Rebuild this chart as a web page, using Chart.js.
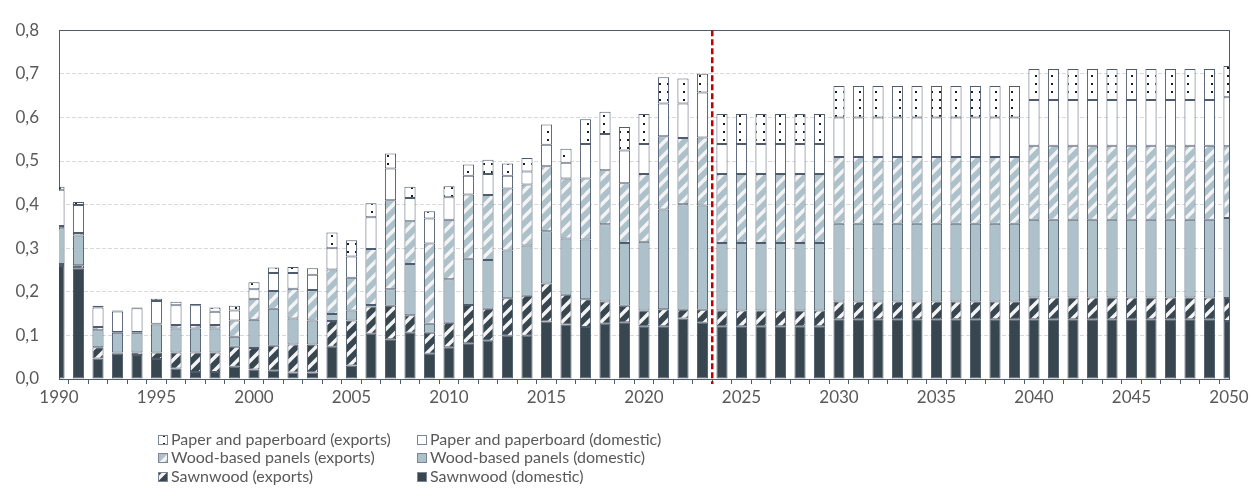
<!DOCTYPE html>
<html>
<head>
<meta charset="utf-8">
<script src="https://cdn.jsdelivr.net/npm/chart.js@4.4.1/dist/chart.umd.min.js"></script>
<style>
  html, body { margin: 0; padding: 0; background: #fff; }
  #wrap { width: 1252px; height: 503px; position: relative; }
</style>
</head>
<body>
<div id="wrap"><canvas id="chart"></canvas></div>
<script>
const years = [
  1990, 1991, 1992, 1993, 1994, 1995, 1996, 1997, 1998, 1999,
  2000, 2001, 2002, 2003, 2004, 2005, 2006, 2007, 2008, 2009,
  2010, 2011, 2012, 2013, 2014, 2015, 2016, 2017, 2018, 2019,
  2020, 2021, 2022, 2023, 2024, 2025, 2026, 2027, 2028, 2029,
  2030, 2031, 2032, 2033, 2034, 2035, 2036, 2037, 2038, 2039,
  2040, 2041, 2042, 2043, 2044, 2045, 2046, 2047, 2048, 2049,
  2050
];

const sawnDomestic = [
  0.259, 0.254, 0.047, 0.058, 0.055, 0.046, 0.024, 0.016, 0.016, 0.028,
  0.022, 0.019, 0.015, 0.015, 0.074, 0.031, 0.104, 0.091, 0.106, 0.058,
  0.073, 0.082, 0.088, 0.099, 0.099, 0.132, 0.125, 0.119, 0.127, 0.130,
  0.121, 0.121, 0.139, 0.129, 0.121, 0.121, 0.121, 0.121, 0.121, 0.121,
  0.137, 0.137, 0.137, 0.137, 0.137, 0.137, 0.137, 0.137, 0.137, 0.137,
  0.137, 0.137, 0.137, 0.137, 0.137, 0.137, 0.137, 0.137, 0.137, 0.137,
  0.133
];
const sawnExports = [
  0.005, 0.007, 0.026, 0.003, 0.006, 0.015, 0.037, 0.045, 0.045, 0.046,
  0.049, 0.057, 0.064, 0.064, 0.059, 0.103, 0.062, 0.077, 0.040, 0.048,
  0.056, 0.088, 0.073, 0.086, 0.092, 0.087, 0.068, 0.064, 0.051, 0.038,
  0.036, 0.039, 0.020, 0.030, 0.036, 0.036, 0.036, 0.036, 0.036, 0.036,
  0.041, 0.041, 0.041, 0.041, 0.041, 0.041, 0.041, 0.041, 0.041, 0.041,
  0.050, 0.050, 0.050, 0.050, 0.050, 0.050, 0.050, 0.050, 0.050, 0.050,
  0.053
];
const panelDomestic = [
  0.082, 0.068, 0.039, 0.045, 0.045, 0.064, 0.055, 0.055, 0.055, 0.023,
  0.065, 0.085, 0.060, 0.055, 0.016, 0.023, 0.004, 0.038, 0.118, 0.021,
  0.100, 0.106, 0.112, 0.110, 0.115, 0.120, 0.129, 0.137, 0.177, 0.144,
  0.158, 0.229, 0.242, 0.239, 0.155, 0.155, 0.155, 0.155, 0.155, 0.155,
  0.178, 0.178, 0.178, 0.178, 0.178, 0.178, 0.178, 0.178, 0.178, 0.178,
  0.178, 0.178, 0.178, 0.178, 0.178, 0.178, 0.178, 0.178, 0.178, 0.178,
  0.183
];
const panelExports = [
  0.005, 0.006, 0.007, 0.002, 0.002, 0.002, 0.008, 0.008, 0.008, 0.037,
  0.048, 0.041, 0.068, 0.070, 0.102, 0.075, 0.128, 0.204, 0.098, 0.184,
  0.136, 0.147, 0.149, 0.142, 0.140, 0.149, 0.138, 0.140, 0.124, 0.137,
  0.155, 0.168, 0.152, 0.156, 0.158, 0.158, 0.158, 0.158, 0.158, 0.158,
  0.153, 0.153, 0.153, 0.153, 0.153, 0.153, 0.153, 0.153, 0.153, 0.153,
  0.170, 0.170, 0.170, 0.170, 0.170, 0.170, 0.170, 0.170, 0.170, 0.170,
  0.165
];
const paperDomestic = [
  0.083, 0.064, 0.045, 0.047, 0.054, 0.052, 0.045, 0.045, 0.030, 0.023,
  0.022, 0.041, 0.036, 0.035, 0.049, 0.049, 0.073, 0.073, 0.053, 0.057,
  0.052, 0.043, 0.048, 0.029, 0.030, 0.049, 0.036, 0.079, 0.083, 0.075,
  0.069, 0.075, 0.079, 0.103, 0.069, 0.069, 0.069, 0.069, 0.069, 0.069,
  0.091, 0.091, 0.091, 0.091, 0.091, 0.091, 0.091, 0.091, 0.091, 0.091,
  0.105, 0.105, 0.105, 0.105, 0.105, 0.105, 0.105, 0.105, 0.105, 0.105,
  0.112
];
const paperExports = [
  0.007, 0.007, 0.004, 0.002, 0.002, 0.005, 0.008, 0.003, 0.010, 0.011,
  0.016, 0.013, 0.014, 0.015, 0.036, 0.037, 0.032, 0.034, 0.026, 0.017,
  0.025, 0.026, 0.033, 0.028, 0.031, 0.047, 0.032, 0.057, 0.051, 0.054,
  0.069, 0.060, 0.057, 0.043, 0.069, 0.069, 0.069, 0.069, 0.069, 0.069,
  0.072, 0.072, 0.072, 0.072, 0.072, 0.072, 0.072, 0.072, 0.072, 0.072,
  0.071, 0.071, 0.071, 0.071, 0.071, 0.071, 0.071, 0.071, 0.071, 0.071,
  0.072
];

const yTicks = [0, 0.1, 0.2, 0.3, 0.4, 0.5, 0.6, 0.7, 0.8];
const lastHistoricYear = 2023;

const INK = '#4f5b6e';
const TEXT = '#595959';
const DARK = '#37464f';
const LIGHT = '#adc1cb';

// hatch fills: white upward diagonals, and sparse black dots
function stripes(bg) {
  const s = 13, c = document.createElement('canvas');
  c.width = c.height = s;
  const g = c.getContext('2d');
  g.fillStyle = bg;
  g.fillRect(0, 0, s, s);
  g.strokeStyle = '#f4f4f4';
  g.lineWidth = 3.5;
  g.beginPath();
  g.moveTo(0, s); g.lineTo(s, 0);
  g.moveTo(-2, 2); g.lineTo(2, -2);
  g.moveTo(s - 2, s + 2); g.lineTo(s + 2, s - 2);
  g.stroke();
  return g.createPattern(c, 'repeat');
}
function dots() {
  const c = document.createElement('canvas');
  c.width = c.height = 8;
  const g = c.getContext('2d');
  g.fillStyle = '#fff';
  g.fillRect(0, 0, 8, 8);
  g.fillStyle = '#1e1e1e';
  g.fillRect(3, 3, 2, 2);
  return g.createPattern(c, 'repeat');
}

const series = [
  ['Sawnwood (domestic)', sawnDomestic, DARK],
  ['Sawnwood (exports)', sawnExports, stripes(DARK)],
  ['Wood-based panels (domestic)', panelDomestic, LIGHT],
  ['Wood-based panels (exports)', panelExports, stripes(LIGHT)],
  ['Paper and paperboard (domestic)', paperDomestic, '#ffffff'],
  ['Paper and paperboard (exports)', paperExports, dots()]
];

// frame round the plot area
const plotFrame = {
  id: 'plotFrame',
  beforeDatasetsDraw(chart) {
    const { ctx, chartArea: a } = chart;
    ctx.save();
    ctx.strokeStyle = INK;
    ctx.lineWidth = 1;
    ctx.strokeRect(Math.round(a.left) + 0.5, Math.round(a.top) + 0.5,
      Math.round(a.right - a.left), Math.round(a.bottom - a.top));
    ctx.restore();
  }
};

// red dashed divider between history and projection
const splitLine = {
  id: 'splitLine',
  afterDatasetsDraw(chart) {
    const { ctx, chartArea: a, scales: { x } } = chart;
    const i = years.indexOf(lastHistoricYear);
    const px = (x.getPixelForValue(i) + x.getPixelForValue(i + 1)) / 2;
    ctx.save();
    ctx.strokeStyle = '#c00000';
    ctx.lineWidth = 2.5;
    ctx.setLineDash([6, 3]);
    ctx.beginPath();
    ctx.moveTo(px, a.top);
    ctx.lineTo(px, a.bottom + 5);
    ctx.stroke();
    ctx.restore();
  }
};

// two-column legend under the axis
const legendCols = [158, 417];
const legendRows = [440, 458, 477];
const twoColLegend = {
  id: 'twoColLegend',
  afterDraw(chart) {
    const ctx = chart.ctx;
    const order = [5, 4, 3, 2, 1, 0];
    ctx.save();
    ctx.font = '16px Lato';
    ctx.textBaseline = 'middle';
    order.forEach((di, k) => {
      const ds = chart.data.datasets[di];
      const x = legendCols[k % 2], y = legendRows[Math.floor(k / 2)];
      ctx.fillStyle = ds.backgroundColor;
      ctx.fillRect(x, y - 5, 10, 10);
      ctx.strokeStyle = '#7a8596';
      ctx.lineWidth = 1;
      ctx.strokeRect(x + 0.5, y - 4.5, 9, 9);
      ctx.fillStyle = TEXT;
      ctx.fillText(ds.label, x + 13, y);
    });
    ctx.restore();
  }
};

Chart.defaults.font.family = 'Lato';
Chart.defaults.font.size = 17;
Chart.defaults.color = TEXT;

new Chart(document.getElementById('chart'), {
  type: 'bar',
  data: {
    labels: years,
    datasets: series.map(([label, data, fill]) => ({
      label,
      data,
      backgroundColor: fill,
      borderColor: INK,
      borderWidth: 1,
      borderSkipped: false,
      categoryPercentage: 1,
      barPercentage: 0.57,
      clip: 0
    }))
  },
  options: {
    responsive: true,
    maintainAspectRatio: false,
    animation: false,
    layout: { padding: { left: 0, right: 23, top: 23, bottom: 99 } },
    plugins: {
      legend: { display: false },
      tooltip: { enabled: false }
    },
    scales: {
      x: {
        stacked: true,
        offset: false,
        grid: { drawOnChartArea: false, drawTicks: true, tickLength: 5, color: INK },
        border: { color: INK, width: 1 },
        ticks: {
          autoSkip: false,
          maxRotation: 0,
          padding: 3,
          callback: (v, i) => years[i] % 5 === 0 ? String(years[i]) : ''
        },
        afterFit: s => { s.height = 25; }
      },
      y: {
        stacked: true,
        min: 0,
        max: 0.8,
        afterBuildTicks: s => { s.ticks = yTicks.map(v => ({ value: v })); },
        grid: { color: '#d9d9d9', drawTicks: false },
        border: { color: INK, width: 1, dash: [4, 2] },
        ticks: {
          padding: 20,
          callback: v => v.toFixed(1).replace('.', ',')
        },
        afterFit: s => { s.width = 59; }
      }
    }
  },
  plugins: [plotFrame, splitLine, twoColLegend]
});
</script>
</body>
</html>
